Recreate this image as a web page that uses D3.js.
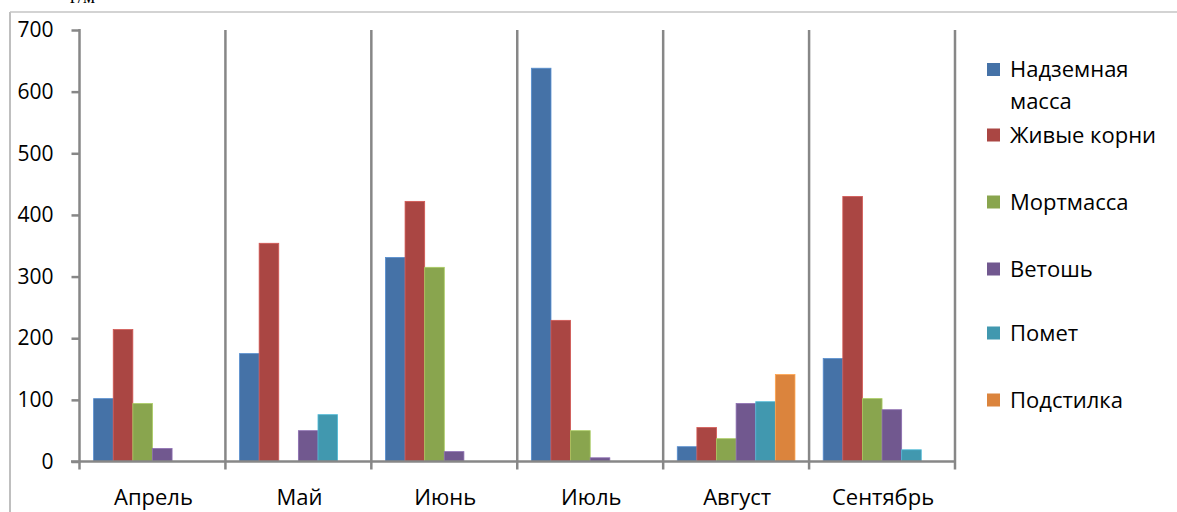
<!DOCTYPE html>
<html>
<head>
<meta charset="utf-8">
<script src="https://cdn.jsdelivr.net/npm/d3@7"></script>
<style>
  html, body { margin: 0; padding: 0; background: #fff; }
  svg { display: block; }
  text { font-family: "Open Sans", "Noto Sans", sans-serif; fill: #000; }
</style>
</head>
<body>
<svg id="chart" width="1177" height="512"></svg>
<script>
// Monthly biomass fractions, g/m²
const months = ["Апрель", "Май", "Июнь", "Июль", "Август", "Сентябрь"];
const seriesNames = ["Надземная масса", "Живые корни", "Мортмасса", "Ветошь", "Помет", "Подстилка"];
const aboveGround = [102, 175, 331, 638, 24, 167];
const liveRoots   = [214, 354, 422, 229, 55, 430];
const mortmass    = [94, 0, 315, 50, 37, 102];
const dryStanding = [21, 50, 16, 6, 94, 84];
const litterFall  = [0, 76, 0, 0, 97, 19];
const litterLayer = [0, 0, 0, 0, 141, 0];
const yTicks = [0, 100, 200, 300, 400, 500, 600, 700];
const colors = ["#4572A7", "#AA4643", "#89A54E", "#71588F", "#4198AF", "#DB843D"];

const seriesValues = [aboveGround, liveRoots, mortmass, dryStanding, litterFall, litterLayer];

const svg = d3.select("#chart");

// outer chart frame (partially visible)
svg.append("line").attr("x1", 10).attr("x2", 10).attr("y1", 12).attr("y2", 512)
  .attr("stroke", "#bfbfbf").attr("stroke-width", 2);
svg.append("line").attr("x1", 10).attr("x2", 1177).attr("y1", 12).attr("y2", 12)
  .attr("stroke", "#c4c4c4").attr("stroke-width", 1.5);

// unit label, clipped by the top edge
svg.append("text").attr("x", 70).attr("y", 3)
  .style("font-family", "'Liberation Serif', serif").style("font-size", "19px")
  .text("г/м²");

const x = d3.scaleBand().domain(months).range([79.5, 955]).paddingInner(0).paddingOuter(0);
const xs = d3.scaleBand().domain(d3.range(seriesNames.length)).range([0, x.bandwidth()])
  .paddingInner(0).paddingOuter(0.72);
const y = d3.scaleLinear().domain([0, 700]).range([461.5, 30]);

const axisColor = "#878787";

// vertical separators between months
const bounds = months.map(m => x(m) + x.bandwidth());
svg.append("g").selectAll("line").data(bounds).join("line")
  .attr("x1", d => d).attr("x2", d => d)
  .attr("y1", y(700)).attr("y2", y(0) + 8)
  .attr("stroke", axisColor).attr("stroke-width", 2.5);

// bars
const groups = svg.append("g").selectAll("g").data(seriesValues).join("g")
  .attr("fill", (d, i) => colors[i])
  .attr("stroke", (d, i) => d3.color(colors[i]).brighter(0.6))
  .attr("stroke-width", 0.8);
groups.each(function (vals, si) {
  d3.select(this).selectAll("rect").data(vals.map((v, mi) => ({ v, m: months[mi] })))
    .join("rect")
    .filter(d => d.v > 0)
    .attr("x", d => x(d.m) + xs(si))
    .attr("width", xs.bandwidth())
    .attr("y", d => y(d.v))
    .attr("height", d => y(0) - y(d.v));
});

// y axis
const yAxis = d3.axisLeft(y).tickValues(yTicks).tickSize(8).tickPadding(18);
const gy = svg.append("g").attr("transform", "translate(79.5,0)").call(yAxis);
gy.select(".domain").remove();
gy.selectAll(".tick line").attr("stroke", axisColor).attr("stroke-width", 2.5);
gy.selectAll(".tick text").style("font-size", "21px").attr("fill", "#000")
  .style("font-family", "'Open Sans', sans-serif");
gy.append("line").attr("x1", 0).attr("x2", 0).attr("y1", y(700) - 1).attr("y2", y(0) + 8)
  .attr("stroke", axisColor).attr("stroke-width", 2.5);

// x axis line
svg.append("line").attr("x1", 71).attr("x2", 956).attr("y1", y(0)).attr("y2", y(0))
  .attr("stroke", axisColor).attr("stroke-width", 2.5);

// month labels
svg.append("g").selectAll("text").data(months).join("text")
  .attr("x", d => x(d) + x.bandwidth() / 2 + 1)
  .attr("y", 505)
  .attr("text-anchor", "middle")
  .style("font-size", "22px")
  .text(d => d);

// legend
const legendCenters = [69.5, 135, 202, 269, 333, 400];
const legendLines = [["Надземная", "масса"], ["Живые корни"], ["Мортмасса"], ["Ветошь"], ["Помет"], ["Подстилка"]];
const lg = svg.append("g").selectAll("g").data(seriesNames).join("g")
  .attr("transform", (d, i) => `translate(987,${legendCenters[i]})`);
lg.append("rect").attr("x", 0).attr("y", -6.5).attr("width", 13).attr("height", 13)
  .attr("fill", (d, i) => colors[i]);
lg.append("text").attr("x", 23).attr("y", 7.5).style("font-size", "22px")
  .each(function (d, i) {
    d3.select(this).selectAll("tspan").data(legendLines[i]).join("tspan")
      .attr("x", 23).attr("dy", (t, k) => k === 0 ? 0 : 32).text(t => t);
  });
</script>
</body>
</html>
